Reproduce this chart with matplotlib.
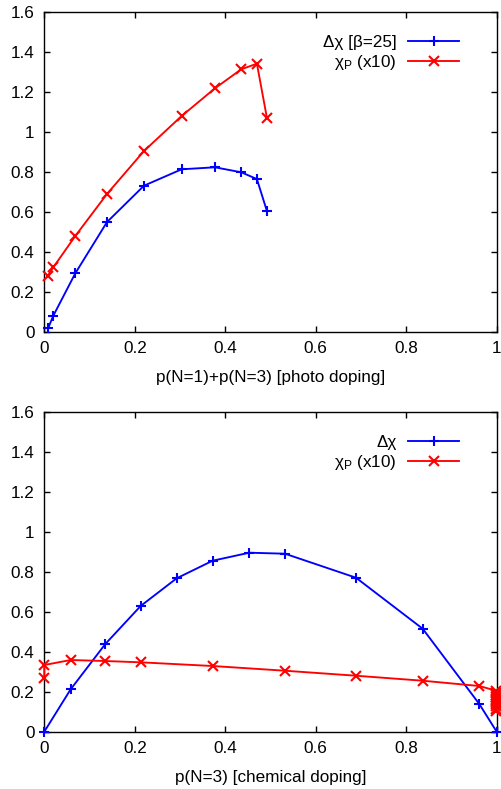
import matplotlib
matplotlib.use("Agg")
import matplotlib.pyplot as plt
from matplotlib.ticker import FuncFormatter

plt.rcParams['font.family'] = ['Liberation Sans', 'DejaVu Sans']
plt.rcParams['mathtext.fontset'] = 'custom'
plt.rcParams['mathtext.rm'] = 'Liberation Sans'
plt.rcParams['mathtext.it'] = 'Liberation Sans:italic'

# ---- top panel: photo doping ----
photo_x_dchi = [0.009, 0.02, 0.0686, 0.1386, 0.2204, 0.3037, 0.3773, 0.4355, 0.470, 0.4923]
photo_dchi = [0.02, 0.08, 0.292, 0.548, 0.73, 0.812, 0.822, 0.797, 0.763, 0.602]
photo_x_chip = [0.0075, 0.02, 0.0686, 0.1386, 0.2204, 0.3037, 0.3773, 0.4355, 0.470, 0.4923]
photo_chip = [0.2785, 0.322, 0.4785, 0.6885, 0.9035, 1.0785, 1.217, 1.312, 1.34, 1.067]

# ---- bottom panel: chemical doping ----
chem_x_dchi = [0.0, 0.0583, 0.1349, 0.213, 0.2926, 0.3722, 0.4532, 0.532, 0.689, 0.8364, 0.9616, 1.0]
chem_dchi = [0.0, 0.212, 0.4385, 0.6285, 0.767, 0.855, 0.895, 0.89, 0.77, 0.515, 0.1385, 0.0]
chem_x_chip = [0.0, 0.0, 0.0583, 0.1349, 0.213, 0.3722, 0.532, 0.689, 0.8364, 0.9616,
               0.999, 0.999, 0.999, 0.999, 0.999, 0.999, 0.999, 0.999, 0.999, 0.999]
chem_chip = [0.2685, 0.3335, 0.3585, 0.3535, 0.347, 0.3285, 0.305, 0.28, 0.255, 0.2285,
             0.205, 0.195, 0.185, 0.175, 0.163, 0.152, 0.14, 0.128, 0.115, 0.102]

xticks = [0, 0.2, 0.4, 0.6, 0.8, 1]
yticks = [0, 0.2, 0.4, 0.6, 0.8, 1, 1.2, 1.4, 1.6]

labels_top = ['\u0394\u03c7 [\u03b2=25]', '\u03c7$_\\mathrm{P}$ (x10)']
labels_bot = ['\u0394\u03c7', '\u03c7$_\\mathrm{P}$ (x10)']
xlabel_top = 'p(N=1)+p(N=3) [photo doping]'
xlabel_bot = 'p(N=3) [chemical doping]'

BLUE = '#0000ff'
RED = '#ff0000'
FS = 12.3

fig = plt.figure(figsize=(5.02, 7.89), dpi=100)
ax1 = fig.add_axes([0.0882, 0.5796, 0.9012, 0.4056])
ax2 = fig.add_axes([0.0882, 0.0726, 0.9012, 0.4056])

fmt = FuncFormatter(lambda v, p: '%g' % v)

def style(ax, xlabel):
    ax.set_xlim(0, 1)
    ax.set_ylim(0, 1.6)
    ax.set_xticks(xticks)
    ax.set_yticks(yticks)
    ax.xaxis.set_major_formatter(fmt)
    ax.yaxis.set_major_formatter(fmt)
    ax.tick_params(direction='in', length=4, width=1, top=True, right=True,
                   labelsize=FS, colors='black')
    ax.tick_params(axis='x', pad=7)
    ax.tick_params(axis='y', pad=7)
    for s in ax.spines.values():
        s.set_linewidth(1.0)
    ax.set_xlabel(xlabel, fontsize=FS, labelpad=9.5)

def plot_panel(ax, xb, yb, xr, yr, labels, xlabel):
    ax.plot(xb, yb, color=BLUE, marker='+', ms=6.5, mew=1.5, lw=1.35, label=labels[0], clip_on=False, zorder=3)
    ax.plot(xr, yr, color=RED, marker='x', ms=6.5, mew=1.5, lw=1.35, label=labels[1], clip_on=False, zorder=3)
    style(ax, xlabel)
    ax.legend(loc='upper right', bbox_to_anchor=(0.917, 0.926), borderaxespad=0, borderpad=0,
              frameon=False, markerfirst=False, handlelength=3.0, handletextpad=0.65,
              labelspacing=0.15, fontsize=FS, numpoints=1)

plot_panel(ax1, photo_x_dchi, photo_dchi, photo_x_chip, photo_chip, labels_top, xlabel_top)
plot_panel(ax2, chem_x_dchi, chem_dchi, chem_x_chip, chem_chip, labels_bot, xlabel_bot)

fig.savefig('out.png', dpi=100)
